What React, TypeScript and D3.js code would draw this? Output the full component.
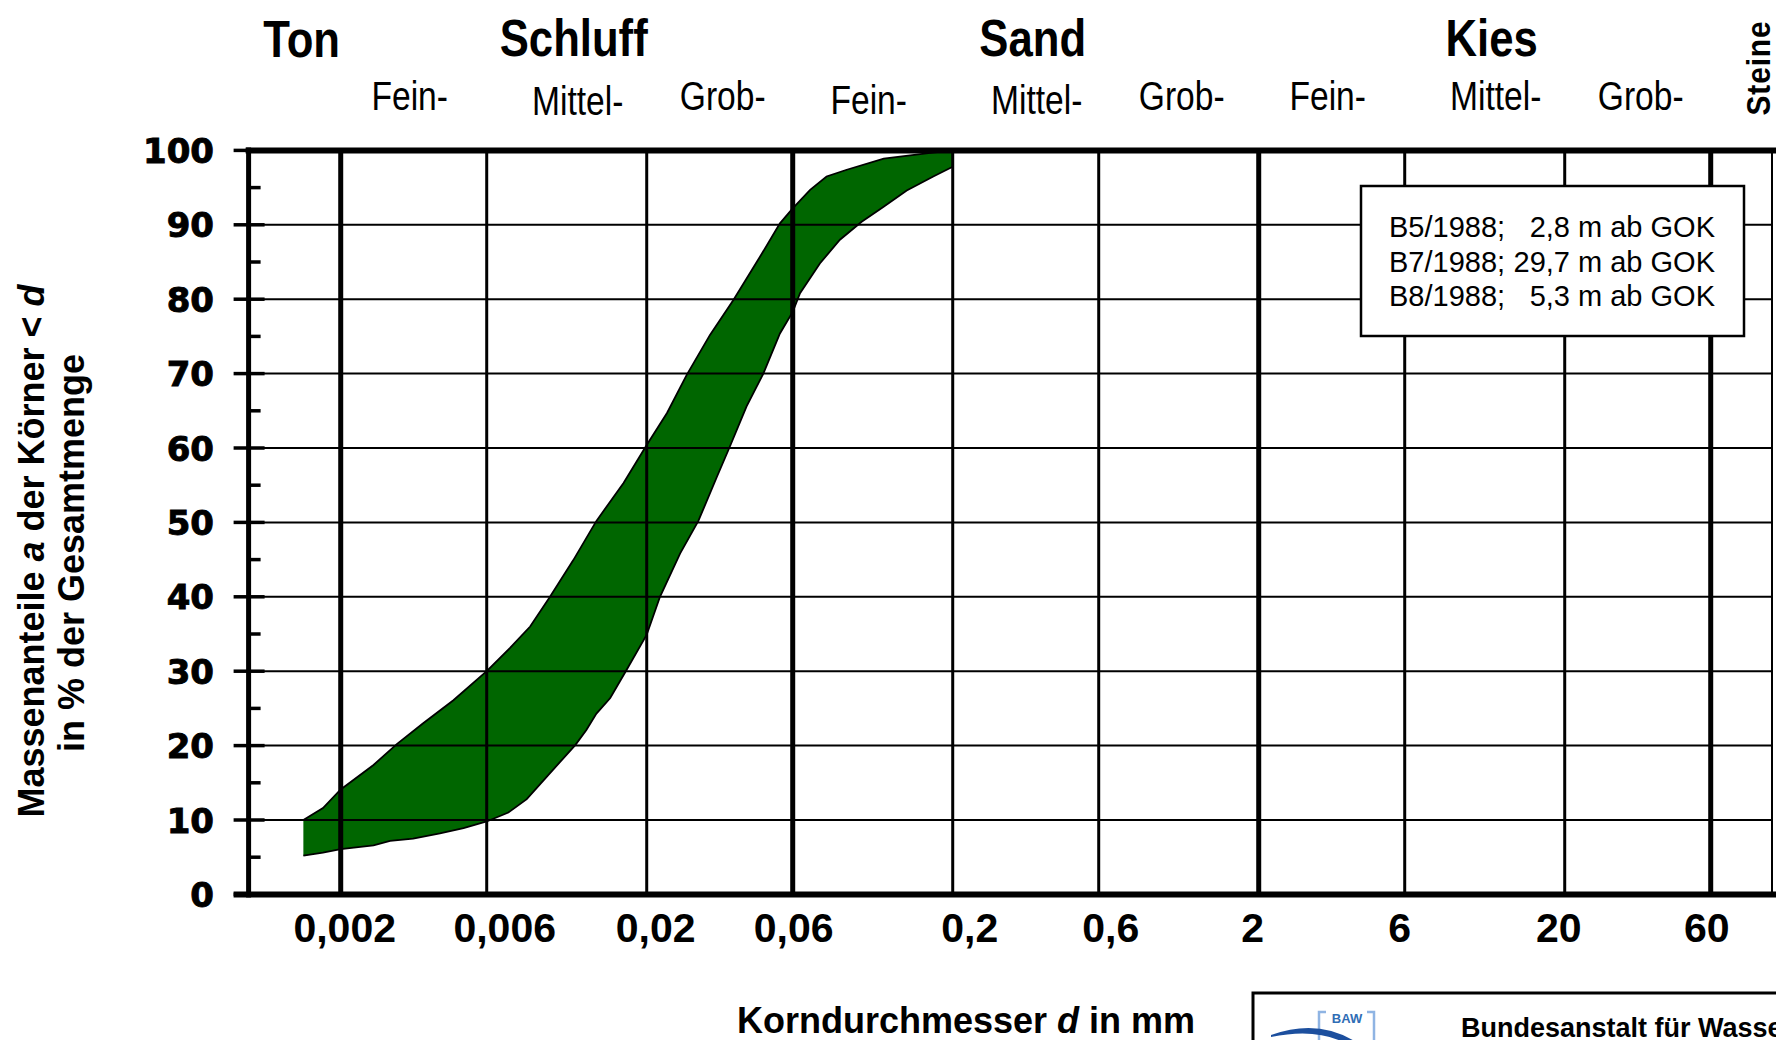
import React, { useRef, useEffect } from 'react';
import * as d3 from 'd3';

// Korngrößen der senkrechten Gitterlinien (mm) und ihre Beschriftung
const gridSizes = [0.002, 0.006, 0.02, 0.06, 0.2, 0.6, 2, 6, 20, 60];
const gridLabels = ['0,002', '0,006', '0,02', '0,06', '0,2', '0,6', '2', '6', '20', '60'];
// Hauptgrenzen Ton | Schluff | Sand | Kies | Steine (dicke Linien)
const boundarySizes = [0.002, 0.06, 2, 60];
const yTickValues = [0, 10, 20, 30, 40, 50, 60, 70, 80, 90, 100];
const yTickLabels = ['0', '10', '20', '30', '40', '50', '60', '70', '80', '90', '100'];

// Bodenarten (Beschriftung oben) und der Bereich, über dem sie stehen
const soilNames = ['Ton', 'Schluff', 'Sand', 'Kies'];
const soilSpans = [[0.001, 0.002], [0.006, 0.02], [0.2, 0.6], [6, 20]];
const subNames = ['Fein-', 'Mittel-', 'Grob-', 'Fein-', 'Mittel-', 'Grob-', 'Fein-', 'Mittel-', 'Grob-'];
const subSpans = [
  [0.002, 0.006], [0.006, 0.02], [0.02, 0.06],
  [0.06, 0.2], [0.2, 0.6], [0.6, 2],
  [2, 6], [6, 20], [20, 60],
];

// Körnungsband: obere (feine) Grenzkurve
const upperSize = [0.00151, 0.00175, 0.002, 0.00256, 0.00305, 0.00372, 0.00467, 0.006, 0.00714, 0.00832,
  0.00966, 0.0115, 0.0137, 0.0168, 0.02, 0.0233, 0.027, 0.0322, 0.0384, 0.0469, 0.0545, 0.06, 0.0684,
  0.0774, 0.0901, 0.119, 0.164, 0.2];
const upperPct = [10.0, 11.6, 14.1, 17.4, 20.2, 23.0, 26.1, 30.0, 33.1, 36.0,
  40.0, 44.9, 50.2, 55.3, 60.4, 64.7, 69.8, 75.2, 79.9, 85.7, 90.2, 92.2, 94.7,
  96.5, 97.4, 98.9, 99.6, 100];
// untere (grobe) Grenzkurve
const lowerSize = [0.00151, 0.00175, 0.002, 0.00256, 0.0029, 0.00345, 0.00422, 0.00504, 0.006, 0.00706,
  0.00811, 0.00942, 0.0117, 0.0127, 0.0137, 0.0152, 0.0172, 0.02, 0.0221, 0.0257, 0.0295, 0.0339,
  0.0374, 0.0424, 0.0481, 0.0545, 0.06, 0.0634, 0.0736, 0.0856, 0.1008, 0.1186, 0.1415, 0.1728, 0.2];
const lowerPct = [5.2, 5.6, 6.1, 6.6, 7.2, 7.5, 8.2, 8.9, 9.8, 11.0,
  12.8, 15.8, 20.1, 22.1, 24.3, 26.4, 30.2, 34.9, 40.0, 45.8, 50.2, 56.1,
  60.2, 65.6, 70.0, 75.4, 78.3, 80.8, 84.8, 88.0, 90.4, 92.4, 94.6, 96.5, 97.8];

const legendBorings = ['B5/1988;', 'B7/1988;', 'B8/1988;'];
const legendDepths = ['2,8 m ab GOK', '29,7 m ab GOK', '5,3 m ab GOK'];

export default function App() {
  const svgRef = useRef<SVGSVGElement>(null);

  useEffect(() => {
    document.body.style.margin = '0';
    const width = 1776;
    const height = 1040;
    const sans = "'Liberation Sans', Arial, sans-serif";
    const wide = "'DejaVu Sans', Verdana, sans-serif";

    const svg = d3.select(svgRef.current);
    svg.selectAll('*').remove();
    svg.append('rect').attr('width', width).attr('height', height).attr('fill', '#fff');

    // Skalen: logarithmisch für Korndurchmesser, linear für Massenanteile
    const x = d3.scaleLog().domain([0.001, 100]).range([248.6, 1778.6]);
    const y = d3.scaleLinear().domain([0, 100]).range([894.4, 150.4]);
    const x0 = x(0.001);
    const xRight = 1772;

    // Körnungsband (Fläche zwischen den beiden Kurven)
    const upper = upperSize.map((d, i) => [x(d), y(upperPct[i])] as [number, number]);
    const lower = lowerSize.map((d, i) => [x(d), y(lowerPct[i])] as [number, number]);
    svg.append('path')
      .attr('d', d3.line()([...upper, ...lower.slice().reverse()]) + 'Z')
      .attr('fill', '#006600');
    [upper, lower].forEach(pts => {
      svg.append('path')
        .attr('d', d3.line()(pts))
        .attr('fill', 'none')
        .attr('stroke', '#000')
        .attr('stroke-width', 1.8);
    });

    // waagerechte Gitterlinien
    svg.append('g').selectAll('line')
      .data(yTickValues.filter(v => v > 0 && v < 100))
      .enter().append('line')
      .attr('x1', x0).attr('x2', xRight)
      .attr('y1', d => y(d)).attr('y2', d => y(d))
      .attr('stroke', '#000').attr('stroke-width', 2);

    // senkrechte Gitterlinien, Bodengrenzen dicker
    svg.append('g').selectAll('line')
      .data(gridSizes)
      .enter().append('line')
      .attr('x1', d => x(d)).attr('x2', d => x(d))
      .attr('y1', y(100)).attr('y2', y(0))
      .attr('stroke', '#000')
      .attr('stroke-width', d => (boundarySizes.includes(d) ? 5 : 3));

    // rechter Rand
    svg.append('line')
      .attr('x1', xRight).attr('x2', xRight).attr('y1', y(100)).attr('y2', y(0))
      .attr('stroke', '#000').attr('stroke-width', 2);

    // Y-Achse mit Haupt- und Zwischenstrichen
    svg.append('g').selectAll('line')
      .data(yTickValues)
      .enter().append('line')
      .attr('x1', x0 - 15).attr('x2', x0 + 16)
      .attr('y1', d => y(d)).attr('y2', d => y(d))
      .attr('stroke', '#000').attr('stroke-width', 3.5);
    svg.append('g').selectAll('line')
      .data(yTickValues.slice(0, -1).map(v => v + 5))
      .enter().append('line')
      .attr('x1', x0).attr('x2', x0 + 12)
      .attr('y1', d => y(d)).attr('y2', d => y(d))
      .attr('stroke', '#000').attr('stroke-width', 3.5);
    svg.append('line')
      .attr('x1', x0).attr('x2', x0).attr('y1', y(100) - 3).attr('y2', y(0) + 3)
      .attr('stroke', '#000').attr('stroke-width', 5);
    // oberer Rand und X-Achse
    svg.append('line')
      .attr('x1', x0 - 3).attr('x2', width).attr('y1', y(100)).attr('y2', y(100))
      .attr('stroke', '#000').attr('stroke-width', 6);
    svg.append('line')
      .attr('x1', x0 - 15).attr('x2', width).attr('y1', y(0)).attr('y2', y(0))
      .attr('stroke', '#000').attr('stroke-width', 6);

    // Y-Beschriftung (kräftig, breit)
    svg.append('g').selectAll('text')
      .data(yTickValues)
      .enter().append('text')
      .attr('x', 214)
      .attr('y', d => y(d) + 12.5)
      .attr('text-anchor', 'end')
      .attr('stroke', '#000')
      .attr('stroke-width', 0.9)
      .style('font-family', wide)
      .style('font-weight', 'bold')
      .style('font-size', '34px')
      .text((d, i) => yTickLabels[i]);

    // X-Beschriftung (leicht versetzt wie im Original)
    const labelShift = [4, 18, 9, 1, 17, 12, -6, -5, -6, -4];
    svg.append('g').selectAll('text')
      .data(gridSizes)
      .enter().append('text')
      .attr('x', (d, i) => x(d) + labelShift[i])
      .attr('y', 942)
      .attr('text-anchor', 'middle')
      .style('font-family', sans)
      .style('font-weight', 'bold')
      .style('font-size', '41px')
      .text((d, i) => gridLabels[i]);

    // schmale Schrift für die Kopfzeilen
    const narrow = (txt: string, cx: number, base: number, size: number, bold: boolean) =>
      svg.append('text')
        .attr('transform', `translate(${cx},${base}) scale(0.84,1)`)
        .attr('text-anchor', 'middle')
        .style('font-family', sans)
        .style('font-weight', bold ? 'bold' : 'normal')
        .style('font-size', `${size}px`)
        .text(txt);

    soilNames.forEach((name, i) => {
      const [a, b] = soilSpans[i];
      narrow(name, x(Math.sqrt(a * b)) + 7, i === 0 ? 57 : 56, 52, true);
    });
    const subNudge = [-4, 11, 3];
    const subDrop = [0, 5, 0, 4, 4, 0, 0, 0, 0];
    subNames.forEach((name, i) => {
      const [a, b] = subSpans[i];
      narrow(name, x(Math.sqrt(a * b)) + subNudge[i % 3], 110 + subDrop[i], 40, false);
    });
    svg.append('text')
      .attr('transform', 'translate(1770,68) rotate(-90) scale(0.88,1)')
      .attr('text-anchor', 'middle')
      .style('font-family', sans)
      .style('font-weight', 'bold')
      .style('font-size', '34px')
      .style('letter-spacing', '1px')
      .text('Steine');

    // Achsentitel Y (zweizeilig, gedreht)
    const yTitle1 = svg.append('text')
      .attr('transform', 'translate(44,551) rotate(-90)')
      .attr('text-anchor', 'middle')
      .style('font-family', sans).style('font-weight', 'bold').style('font-size', '36px');
    yTitle1.append('tspan').text('Massenanteile ');
    yTitle1.append('tspan').style('font-style', 'italic').text('a');
    yTitle1.append('tspan').text(' der Körner < ');
    yTitle1.append('tspan').style('font-style', 'italic').text('d');
    svg.append('text')
      .attr('transform', 'translate(84,553) rotate(-90)')
      .attr('text-anchor', 'middle')
      .style('font-family', sans).style('font-weight', 'bold').style('font-size', '36px')
      .text('in % der Gesamtmenge');

    // Achsentitel X
    const xTitle = svg.append('text')
      .attr('x', 966).attr('y', 1033)
      .attr('text-anchor', 'middle')
      .style('font-family', sans).style('font-weight', 'bold').style('font-size', '36px');
    xTitle.append('tspan').text('Korndurchmesser ');
    xTitle.append('tspan').style('font-style', 'italic').text('d');
    xTitle.append('tspan').text(' in mm');

    // Legende
    svg.append('rect')
      .attr('x', 1361).attr('y', 186).attr('width', 383).attr('height', 150)
      .attr('fill', '#fff').attr('stroke', '#000').attr('stroke-width', 2.5);
    const rowBase = [237, 271.5, 306];
    legendBorings.forEach((b, i) => {
      svg.append('text')
        .attr('x', 1389).attr('y', rowBase[i])
        .style('font-family', sans).style('font-size', '29px')
        .text(b);
      svg.append('text')
        .attr('x', 1715).attr('y', rowBase[i])
        .attr('text-anchor', 'end')
        .style('font-family', sans).style('font-size', '29px')
        .text(legendDepths[i]);
    });

    // Schriftfeld unten rechts mit BAW-Logo
    svg.append('rect')
      .attr('x', 1253).attr('y', 993).attr('width', 600).attr('height', 100)
      .attr('fill', '#fff').attr('stroke', '#000').attr('stroke-width', 3);
    const logo = svg.append('g');
    logo.append('path')
      .attr('d', 'M1319,1040 L1319,1012 L1326,1012 M1374,1040 L1374,1012 L1367,1012')
      .attr('fill', 'none').attr('stroke', '#8fb4e3').attr('stroke-width', 2.5);
    logo.append('text')
      .attr('x', 1347).attr('y', 1023)
      .attr('text-anchor', 'middle')
      .style('font-family', sans).style('font-weight', 'bold').style('font-size', '13px')
      .attr('fill', '#2f6db5')
      .text('BAW');
    logo.append('path')
      .attr('d', 'M1271,1035 Q1318,1018 1356,1042 L1343,1042 Q1314,1028 1271,1037 Z')
      .attr('fill', '#1c4f9e');
    svg.append('text')
      .attr('x', 1461).attr('y', 1037)
      .style('font-family', sans).style('font-weight', 'bold').style('font-size', '27px')
      .text('Bundesanstalt für Wasserbau');
  }, []);

  return (
    <div style={{ width: 1776, height: 1040, position: 'absolute', left: 0, top: 0, overflow: 'hidden' }}>
      <svg ref={svgRef} width={1776} height={1040} style={{ display: 'block' }}></svg>
    </div>
  );
}
